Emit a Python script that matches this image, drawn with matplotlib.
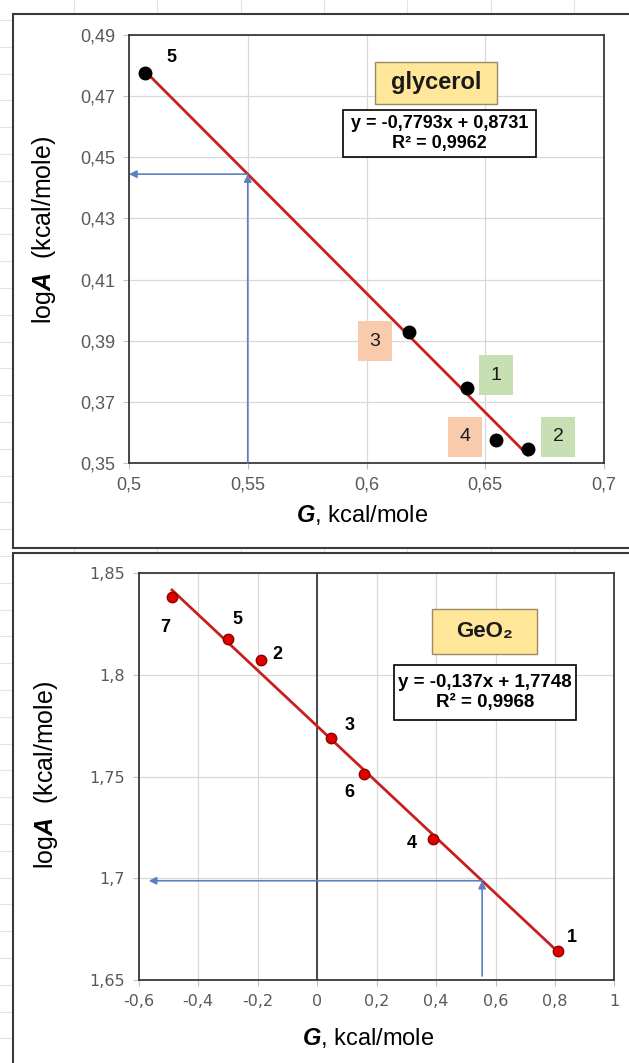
import numpy as np
import matplotlib
matplotlib.use('Agg')
import matplotlib.pyplot as plt
from matplotlib.patches import Rectangle
from matplotlib.lines import Line2D

plt.rcParams['font.family'] = ['Liberation Sans', 'DejaVu Sans']
plt.rcParams['mathtext.fontset'] = 'custom'
plt.rcParams['mathtext.rm'] = 'Liberation Sans'
plt.rcParams['mathtext.bfit'] = 'Liberation Sans:bold:italic'

NARROW = ['Liberation Sans Narrow', 'Liberation Sans']

# glycerol data (points 1..5)
gly_ids = ['1', '2', '3', '4', '5']
gly_g = [0.6424, 0.6679, 0.6178, 0.6546, 0.5068]
gly_loga = [0.3746, 0.3545, 0.3928, 0.3574, 0.4776]
gly_slope, gly_icpt, gly_r2 = -0.7793, 0.8731, '0,9962'
gly_g0 = 0.55
gly_xticks = [0.5, 0.55, 0.6, 0.65, 0.7]
gly_xlabels = ['0,5', '0,55', '0,6', '0,65', '0,7']
gly_yticks = [0.35, 0.37, 0.39, 0.41, 0.43, 0.45, 0.47, 0.49]
gly_ylabels = ['0,35', '0,37', '0,39', '0,41', '0,43', '0,45', '0,47', '0,49']

# GeO2 data (points 1..7)
geo_ids = ['1', '2', '3', '4', '5', '6', '7']
geo_g = [0.8112, -0.1881, 0.0469, 0.3899, -0.2989, 0.1589, -0.488]
geo_loga = [1.6642, 1.8071, 1.7691, 1.7193, 1.8177, 1.7513, 1.8384]
geo_slope, geo_icpt, geo_r2 = -0.137, 1.7748, '0,9968'
geo_g0 = 0.555
geo_xticks = [-0.6, -0.4, -0.2, 0, 0.2, 0.4, 0.6, 0.8, 1.0]
geo_xlabels = ['-0,6', '-0,4', '-0,2', '0', '0,2', '0,4', '0,6', '0,8', '1']
geo_yticks = [1.65, 1.7, 1.75, 1.8, 1.85]
geo_ylabels = ['1,65', '1,7', '1,75', '1,8', '1,85']

W, H = 629, 1063
fig = plt.figure(figsize=(W / 100, H / 100), dpi=100)


def fx(px):
    return px / W


def fy(py):
    return 1 - py / H


# spreadsheet cells behind the charts
for x in np.arange(74, W, 83.3):
    fig.add_artist(Line2D([fx(x), fx(x)], [0, 1], color='#e4e4e4', lw=0.8, zorder=-5))
for y in np.arange(20, H, 26.8):
    fig.add_artist(Line2D([0, 1], [fy(y), fy(y)], color='#e4e4e4', lw=0.8, zorder=-5))

# chart frames
for top, bottom in [(14, 548), (553, H + 5)]:
    fig.add_artist(Rectangle((fx(13), fy(bottom)), 1.2, fy(top) - fy(bottom),
                             transform=fig.transFigure, facecolor='white',
                             edgecolor='#3a3a3a', lw=1.5, zorder=-1))

blue = '#5b7fc0'
red = '#c8201e'
orange = '#f8cbad'
green = '#c6e0b4'


def style_axes(ax, xticks, xlabels, yticks, ylabels, tickfont, tsize):
    ax.set_xticks(xticks)
    ax.set_xticklabels(xlabels, family=tickfont, fontsize=tsize, color='#595959')
    ax.set_yticks(yticks)
    ax.set_yticklabels(ylabels, family=tickfont, fontsize=tsize, color='#595959')
    ax.set_xlim(xticks[0], xticks[-1])
    ax.set_ylim(yticks[0], yticks[-1])
    ax.grid(True, color='#d9d9d9', lw=0.9)
    ax.set_axisbelow(True)
    ax.tick_params(length=4, color='#bfbfbf', pad=6)
    for s in ax.spines.values():
        s.set_color('#3a3a3a')
        s.set_linewidth(1.3)


def arrow(ax, start, end):
    ax.annotate('', xy=end, xytext=start,
                arrowprops=dict(arrowstyle='-|>', color=blue, lw=1.2,
                                mutation_scale=11, shrinkA=0, shrinkB=0))


def box(ax, x0, y0, x1, y1, fc, ec, lw):
    ax.add_patch(Rectangle((x0, y0), x1 - x0, y1 - y0, transform=ax.transAxes,
                           facecolor=fc, edgecolor=ec, lw=lw, zorder=5))


def comma(v, nd):
    return ('%.*f' % (nd, v)).replace('.', ',')


# ---------------- glycerol ----------------
ax1 = fig.add_axes([fx(129), fy(463), (604 - 129) / W, (463 - 35) / H])
style_axes(ax1, gly_xticks, gly_xlabels, gly_yticks, gly_ylabels, NARROW, 13)

xs = np.array([min(gly_g), max(gly_g)])
ax1.plot(xs, gly_slope * xs + gly_icpt, color=red, lw=2, zorder=3)
ax1.plot(gly_g, gly_loga, 'o', color='black', ms=9, zorder=4)

y0 = gly_slope * gly_g0 + gly_icpt
arrow(ax1, (gly_g0, gly_yticks[0]), (gly_g0, y0))
arrow(ax1, (gly_g0, y0), (gly_xticks[0], y0))

gly_offsets = {'1': (21, 9), '2': (22, 9), '3': (-24.5, -6.5), '4': (-22.5, 2.5), '5': (19, 11)}
gly_fill = {'1': green, '2': green, '3': orange, '4': orange}
for lab, g, a in zip(gly_ids, gly_g, gly_loga):
    if lab in gly_fill:
        ax1.annotate(lab, (g, a), xytext=gly_offsets[lab], textcoords='offset points',
                     ha='center', va='center', fontsize=14, color='#1a1a1a', zorder=6,
                     bbox=dict(boxstyle='square,pad=0.6', fc=gly_fill[lab], ec='none'))
    else:
        ax1.annotate(lab, (g, a), xytext=gly_offsets[lab], textcoords='offset points',
                     ha='center', va='center', fontsize=13, fontweight='bold', zorder=6)

box(ax1, 0.518, 0.839, 0.775, 0.937, '#ffe699', '#9c8b5e', 1.0)
ax1.text(0.6465, 0.888, 'glycerol', transform=ax1.transAxes, ha='center', va='center',
         fontsize=17, fontweight='bold', color='#1a1a1a', zorder=6)
box(ax1, 0.4505, 0.715, 0.857, 0.825, 'white', 'black', 1.2)
ax1.text(0.654, 0.770, 'y = %sx + %s\nR² = %s' % (comma(gly_slope, 4), comma(gly_icpt, 4), gly_r2),
         transform=ax1.transAxes, ha='center', va='center', fontsize=13, fontweight='bold',
         family=NARROW, linespacing=1.25, zorder=6)

fig.text(fx(44), fy(230), r'log$\mathbfit{A}$  (kcal/mole)', rotation=90,
         ha='center', va='center', fontsize=18)
fig.text(fx(362), fy(515), r'$\mathbfit{G}$, kcal/mole', ha='center', va='center', fontsize=17)

# ---------------- GeO2 ----------------
ax2 = fig.add_axes([fx(138.6), fy(980), (614.5 - 138.6) / W, (980 - 573) / H])
style_axes(ax2, geo_xticks, geo_xlabels, geo_yticks, geo_ylabels, ['DejaVu Sans'], 11.5)
ax2.axvline(0, color='#3a3a3a', lw=1.3, zorder=2)

xs = np.array([min(geo_g), max(geo_g)])
ax2.plot(xs, geo_slope * xs + geo_icpt, color=red, lw=2, zorder=3)
ax2.plot(geo_g, geo_loga, 'o', color='#e00000', mec='#8b0000', mew=1, ms=7.5, zorder=4)

y0 = geo_slope * geo_g0 + geo_icpt
arrow(ax2, (geo_g0, 1.652), (geo_g0, y0))
arrow(ax2, (geo_g0, y0), (-0.566, y0))

geo_offsets = {'1': (10, 10), '2': (11.5, 4.3), '3': (13.3, 8.4), '4': (-15.3, -2.9),
               '5': (6.5, 13.5), '6': (-10.7, -13.7), '7': (-5, -22)}
for lab, g, a in zip(geo_ids, geo_g, geo_loga):
    ax2.annotate(lab, (g, a), xytext=geo_offsets[lab], textcoords='offset points',
                 ha='center', va='center', fontsize=13, fontweight='bold', zorder=6)

box(ax2, 0.6165, 0.801, 0.837, 0.9115, '#ffe699', '#9c8b5e', 1.0)
ax2.text(0.727, 0.856, 'GeO₂', transform=ax2.transAxes, ha='center', va='center',
         fontsize=16, fontweight='bold', color='#1a1a1a', zorder=6)
box(ax2, 0.5367, 0.639, 0.919, 0.774, 'white', 'black', 1.2)
ax2.text(0.728, 0.7065, 'y = %sx + %s\nR² = %s' % (comma(geo_slope, 3), comma(geo_icpt, 4), geo_r2),
         transform=ax2.transAxes, ha='center', va='center', fontsize=13.5, fontweight='bold',
         family=NARROW, linespacing=1.25, zorder=6)

fig.text(fx(46), fy(775), r'log$\mathbfit{A}$  (kcal/mole)', rotation=90,
         ha='center', va='center', fontsize=18)
fig.text(fx(368), fy(1038), r'$\mathbfit{G}$, kcal/mole', ha='center', va='center', fontsize=17)

fig.savefig('out.png', dpi=100)
